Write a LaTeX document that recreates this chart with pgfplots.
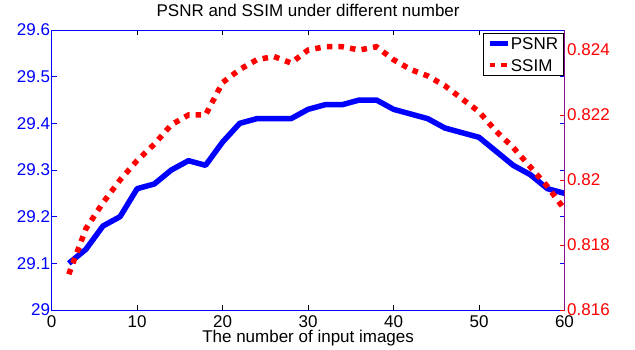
\documentclass[border=0pt]{standalone}
\usepackage{fontspec}
\setmainfont{Liberation Sans}
\usepackage{pgfplots}
\pgfplotsset{compat=1.18}
\definecolor{mpurple}{rgb}{0.55,0.05,0.55}
\pgfplotstableread{
x y
2 29.10
4 29.13
6 29.18
8 29.20
10 29.26
12 29.27
14 29.30
16 29.32
18 29.31
20 29.36
22 29.40
24 29.41
26 29.41
28 29.41
30 29.43
32 29.44
34 29.44
36 29.45
38 29.45
40 29.43
42 29.42
44 29.41
46 29.39
48 29.38
50 29.37
52 29.34
54 29.31
56 29.29
58 29.26
60 29.25
}\psnr
\pgfplotstableread{
x y
2 0.8171
4 0.8185
6 0.8193
8 0.8200
10 0.8206
12 0.8211
14 0.8217
16 0.8220
18 0.8220
20 0.8230
22 0.8234
24 0.8237
26 0.8238
28 0.8236
30 0.8240
32 0.8241
34 0.8241
36 0.8240
38 0.8241
40 0.8237
42 0.8234
44 0.8232
46 0.8229
48 0.8225
50 0.8221
52 0.8215
54 0.8210
56 0.8204
58 0.8198
60 0.8191
}\ssim
\begin{document}
\begin{tikzpicture}[font=\fontsize{17bp}{20bp}\selectfont]
\path[use as bounding box] (-51.7bp,-40bp) rectangle (583.3bp,310bp);
\pgfplotsset{every axis/.append style={
  scale only axis, width=512.8bp, height=280bp,
  xmin=0, xmax=60, tick align=inside, major tick length=5bp,
  /pgf/number format/assume math mode=true, scaled ticks=false,
  font=\fontsize{17bp}{20bp}\selectfont}}
\begin{axis}[
  at={(0,0)}, anchor=south west,
  ymin=29, ymax=29.6,
  ytick={29,29.1,29.2,29.3,29.4,29.5,29.6},
  xtick={0,10,20,30,40,50,60},
  x axis line style={black, line width=1bp},
  y axis line style={blue, line width=1bp},
  xtick style={black, line width=0.8bp},
  ytick style={blue, line width=0.8bp},
  yticklabel style={blue, inner sep=0pt, xshift=-1.5bp},
  xticklabel style={black, inner sep=0pt, anchor=north, yshift=-5bp},
  title={PSNR and SSIM under different number},
  title style={at={(axis description cs:0.5,1)}, anchor=base, yshift=7.3bp, inner sep=0pt},
  xlabel={The number of input images},
  xlabel style={at={(axis description cs:0.5,0)}, anchor=base, yshift=-32bp, inner sep=0pt},
]
\addplot[blue, line width=5.5bp, line join=round] table[x=x,y=y] {\psnr};
\end{axis}
\begin{axis}[
  at={(0,0)}, anchor=south west,
  axis y line*=right, axis x line=none,
  ymin=0.816, ymax=0.824615,
  ytick={0.816,0.818,0.82,0.822,0.824},
  y axis line style={mpurple, line width=1bp},
  ytick style={red, line width=0.8bp},
  yticklabel style={red, inner sep=0pt, xshift=2.5bp, /pgf/number format/fixed, /pgf/number format/precision=3},
  legend style={at={(rel axis cs:1,1)}, anchor=north east, xshift=-1bp, yshift=-3bp,
    draw=black, line width=0.8bp, fill=white, inner xsep=4bp, inner ysep=3bp,
    row sep=7.5bp, column sep=0bp,
    nodes={inner sep=1bp, text height=12.2bp, text depth=0bp},
    font=\fontsize{17bp}{20bp}\selectfont},
  legend cell align=left,
  legend image code/.code={\draw[#1, line width=4.5bp] (0bp,0bp) -- (18bp,0bp);},
]
\addlegendimage{blue, solid}
\addlegendentry{PSNR}
\addplot[red, line width=5.5bp, dash pattern=on 5.5bp off 6.2bp] table[x=x,y=y] {\ssim};
\addlegendentry{SSIM}
\end{axis}
\end{tikzpicture}
\end{document}
